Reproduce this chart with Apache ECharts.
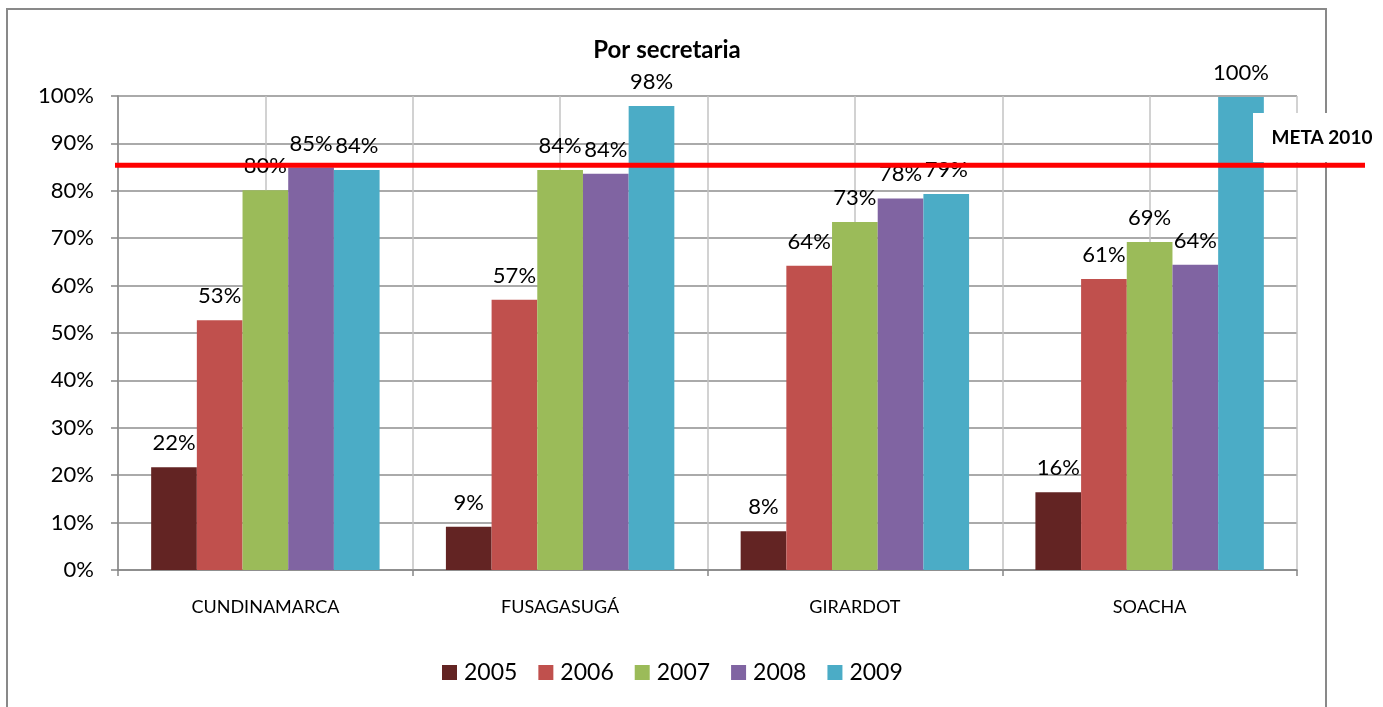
<!DOCTYPE html>
<html><head><meta charset="utf-8">
<script src="https://cdn.jsdelivr.net/npm/echarts@6/dist/echarts.min.js"></script>
<style>html,body{margin:0;padding:0;background:#fff}#c{width:1383px;height:707px}</style>
</head><body><div id="c"></div>
<script>
const titleText = 'Por secretaria';
const categories = ['CUNDINAMARCA', 'FUSAGASUGÁ', 'GIRARDOT', 'SOACHA'];
const years = ['2005', '2006', '2007', '2008', '2009'];
const v2005 = [21.7, 9.1, 8.2, 16.4];
const v2006 = [52.7, 57.0, 64.2, 61.4];
const v2007 = [80.1, 84.4, 73.4, 69.2];
const v2008 = [84.9, 83.6, 78.4, 64.4];
const v2009 = [84.4, 97.9, 79.3, 99.8];
const metaValue = 85.4;
const metaLabel = 'META 2010';
const yMin = 0, yMax = 100, yStep = 10;

const colors = ['#632423', '#C0504D', '#9BBB59', '#8064A2', '#4BACC6'];
const seriesValues = [v2005, v2006, v2007, v2008, v2009];
const FONT = 'Lato';

const chart = echarts.init(document.getElementById('c'), null, {renderer: 'canvas'});

const series = years.map((y, i) => ({
  name: y,
  type: 'bar',
  xAxisIndex: 0,
  yAxisIndex: 0,
  data: seriesValues[i],
  barGap: '0%',
  barCategoryGap: '22.5%',
  itemStyle: {color: colors[i]},
  label: {
    show: true, position: 'top', distance: 13,
    color: '#000', fontFamily: FONT, fontSize: 22,
    formatter: p => Math.round(p.value) + '%'
  }
}));

chart.setOption({
  animation: false,
  color: colors,
  title: {
    text: titleText, left: 662, top: 33, textAlign: 'center',
    textStyle: {fontFamily: FONT, fontSize: 24, fontWeight: 'bold', color: '#000'}
  },
  legend: {
    data: years, left: 437, top: 656, icon: 'rect',
    itemWidth: 15, itemHeight: 15, itemGap: 21,
    textStyle: {fontFamily: FONT, fontSize: 23, color: '#000', padding: [0, 0, 0, 2]}
  },
  grid: {left: 118, right: 86, top: 96, bottom: 137},
  xAxis: [{
    type: 'category', data: categories,
    axisLine: {lineStyle: {color: '#868686', width: 1.5}},
    axisTick: {show: true, interval: 0, length: 6, lineStyle: {color: '#868686', width: 1.5}},
    axisLabel: {interval: 0, margin: 27, fontFamily: FONT, fontSize: 18, color: '#000', lineHeight: 20},
    splitLine: {show: false}
  }, {
    type: 'value', min: 0, max: 8, interval: 1, position: 'top',
    axisLine: {show: false}, axisTick: {show: false}, axisLabel: {show: false},
    splitLine: {show: true, lineStyle: {color: '#c3c3c3', width: 1.5}}
  }],
  yAxis: [{
    type: 'value', min: yMin, max: yMax, interval: yStep,
    axisLine: {show: true, lineStyle: {color: '#868686', width: 1.5}},
    axisTick: {show: true, length: 7, lineStyle: {color: '#868686', width: 1.5}},
    axisLabel: {margin: 24, fontFamily: FONT, fontSize: 22, color: '#000', formatter: '{value}%'},
    splitLine: {show: true, lineStyle: {color: '#8e8e8e', width: 1.5}}
  }],
  series: series
});

const yMeta = chart.convertToPixel({yAxisIndex: 0}, metaValue);
chart.setOption({
  graphic: [
    {type: 'rect', z: -1, silent: true,
     shape: {x: 7, y: 9, width: 1319, height: 720},
     style: {fill: 'none', stroke: '#898989', lineWidth: 2}},
    {type: 'rect', z: 99, silent: true,
     shape: {x: 1253, y: 113, width: 130, height: 49},
     style: {fill: '#ffffff'}},
    {type: 'text', z: 100, silent: true, x: 1322, y: 138,
     style: {text: metaLabel, fill: '#000', font: 'bold 19px Lato', align: 'center', verticalAlign: 'middle'}},
    {type: 'line', z: 100, silent: true,
     shape: {x1: 115, y1: yMeta, x2: 1365, y2: yMeta},
     style: {stroke: '#ff0000', lineWidth: 5}}
  ]
});
</script>
</body></html>
